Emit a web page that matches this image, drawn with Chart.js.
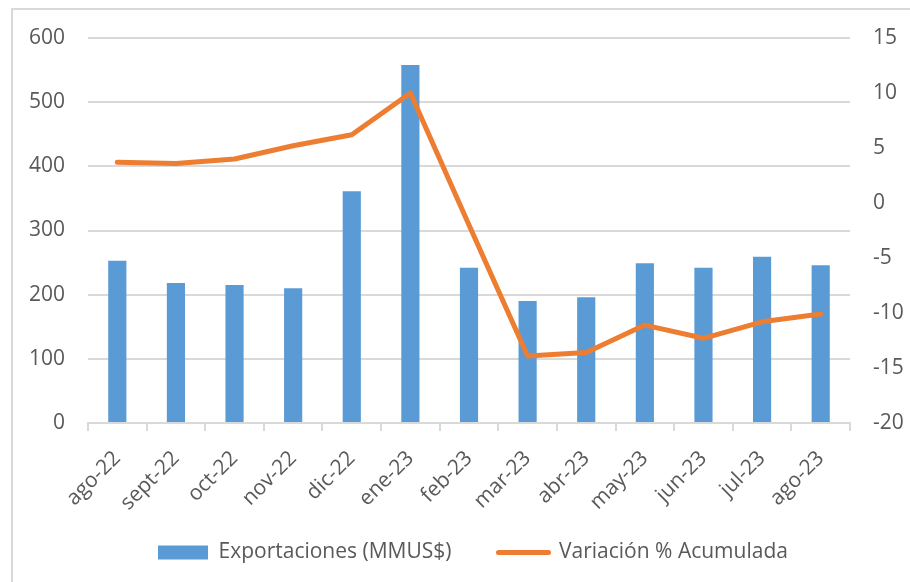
<!DOCTYPE html>
<html>
<head>
<meta charset="utf-8">
<script src="https://cdn.jsdelivr.net/npm/chart.js@4.4.0/dist/chart.umd.min.js"></script>
<style>
    body { margin: 0; background: #ffffff; }
    #outer-chart { position: relative; width: 910px; height: 582px; }
    #frame { position: absolute; left: 11px; top: 8px; right: -4px; bottom: -4px; border-left: 2px solid #d9d9d9; border-top: 2px solid #d9d9d9; }
    #chart0 { position: absolute; left: 0; top: 0; }
</style>
</head>
<body>
<div id="outer-chart">
    <div id="frame"></div>
    <canvas id="chart0" width="910" height="582"></canvas>
</div>
<script>
let meses = ['ago-22', 'sept-22', 'oct-22', 'nov-22', 'dic-22', 'ene-23', 'feb-23', 'mar-23', 'abr-23', 'may-23', 'jun-23', 'jul-23', 'ago-23'];
let exportaciones = [253, 218, 215, 210, 361, 558, 242, 190, 196, 249, 242, 259, 246];
let variacion = [3.7, 3.6, 4.0, 5.2, 6.2, 10.0, -2.0, -13.9, -13.6, -11.1, -12.3, -10.8, -10.1];
let ticksIzq = [0, 100, 200, 300, 400, 500, 600];
let ticksDer = [-20, -15, -10, -5, 0, 5, 10, 15];

let chart0 = document.getElementById('chart0');
let fuente = { family: "'Open Sans', sans-serif", size: 21 };
let gris = '#595959';

// leyenda mas a la izquierda, y etiquetas del eje x sin recortar
let ajustes = {
    id: 'ajustes',
    afterLayout(chart) {
        let dx = 111;
        chart.legend.left += dx;
        chart.legend.right += dx;
        chart.scales.x.bottom = chart.height;
    }
};

let currentChart = new Chart(chart0, {
    type: 'bar',
    data: {
        labels: meses,
        datasets: [
            {
                label: 'Exportaciones (MMUS$)',
                data: exportaciones,
                backgroundColor: '#5b9bd5',
                barPercentage: 0.31,
                categoryPercentage: 1,
                yAxisID: 'y',
                order: 2
            },
            {
                type: 'line',
                label: 'Variación % Acumulada',
                data: variacion,
                borderColor: '#ed7d31',
                backgroundColor: '#ed7d31',
                borderWidth: 5,
                borderCapStyle: 'round',
                borderJoinStyle: 'round',
                pointRadius: 0,
                tension: 0,
                yAxisID: 'y1',
                order: 1
            }
        ]
    },
    options: {
        responsive: false,
        animation: false,
        layout: {
            padding: { top: 38, bottom: 9, left: 0, right: 0 }
        },
        plugins: {
            tooltip: { enabled: false },
            legend: {
                display: true,
                position: 'bottom',
                align: 'start',
                labels: {
                    font: fuente,
                    color: gris,
                    padding: 47,
                    usePointStyle: true,
                    pointStyleWidth: 50,
                    boxHeight: 14,
                    generateLabels(chart) {
                        return chart.data.datasets.map((ds, i) => ({
                            text: ds.label,
                            fillStyle: ds.backgroundColor,
                            strokeStyle: i === 0 ? ds.backgroundColor : ds.borderColor,
                            lineWidth: i === 0 ? 0 : 5,
                            lineCap: 'round',
                            pointStyle: i === 0 ? 'rect' : 'line',
                            fontColor: gris,
                            datasetIndex: i
                        }));
                    }
                }
            }
        },
        scales: {
            x: {
                grid: {
                    display: true,
                    drawOnChartArea: false,
                    tickLength: 8,
                    color: '#d9d9d9',
                    lineWidth: 2
                },
                border: { color: '#d9d9d9', width: 2 },
                ticks: {
                    font: fuente,
                    color: gris,
                    minRotation: 45,
                    maxRotation: 45,
                    padding: 15,
                    autoSkip: false
                },
                afterFit(scale) { scale.height = 72; }
            },
            y: {
                position: 'left',
                min: 0,
                max: 600,
                afterBuildTicks(scale) { scale.ticks = ticksIzq.map(v => ({ value: v })); },
                grid: { color: '#d9d9d9', lineWidth: 2, drawTicks: false },
                border: { display: false },
                ticks: { font: fuente, color: gris, padding: 23 },
                afterFit(scale) { scale.width = 88; }
            },
            y1: {
                position: 'right',
                min: -20,
                max: 15,
                afterBuildTicks(scale) { scale.ticks = ticksDer.map(v => ({ value: v })); },
                grid: { drawOnChartArea: false, drawTicks: false },
                border: { display: false },
                ticks: { font: fuente, color: gris, padding: 23 },
                afterFit(scale) { scale.width = 60; }
            }
        }
    },
    plugins: [ajustes]
});
</script>
</body>
</html>
